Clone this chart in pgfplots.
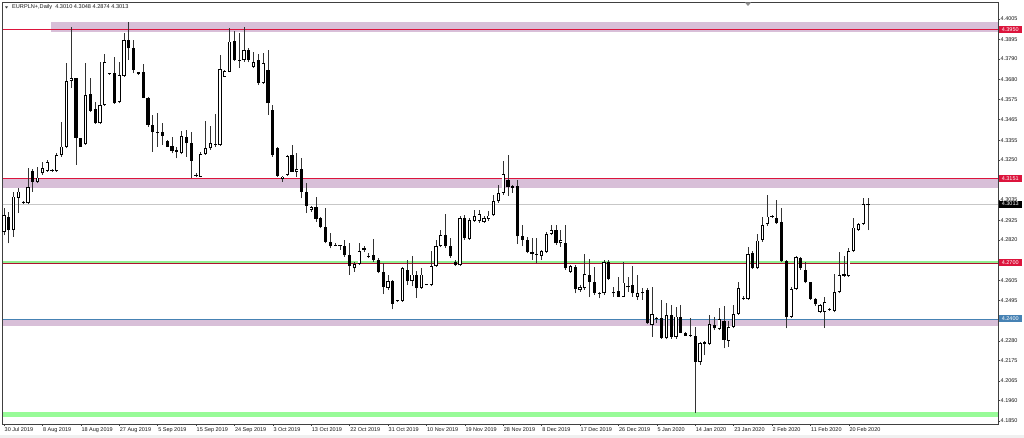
\documentclass[border=0pt]{standalone}
\usepackage{fontspec}
\setmainfont{Liberation Sans}
\usepackage{pgfplots}
\usepackage{pgfplotstable}
\pgfplotsset{compat=1.18}
\definecolor{thistle}{RGB}{216,191,216}
\definecolor{mtred}{RGB}{220,20,60}
\definecolor{mtgreen}{RGB}{144,238,144}
\definecolor{mtpale}{RGB}{152,251,152}
\definecolor{mtblue}{RGB}{70,130,180}

% EURPLN+ daily bars: index, open, high, low, close
\pgfplotstableread{
x o h l c
0 4.2865 4.2991 4.2847 4.2955
1 4.2946 4.2972 4.2803 4.2874
2 4.2874 4.3080 4.2838 4.3053
3 4.3047 4.3098 4.2964 4.3080
4 4.3021 4.3030 4.3015 4.3025
5 4.3017 4.3208 4.3012 4.3106
6 4.3190 4.3200 4.3080 4.3133
7 4.3130 4.3213 4.3125 4.3155
8 4.3178 4.3240 4.3169 4.3205
9 4.3192 4.3249 4.3187 4.3240
10 4.3194 4.3201 4.3187 4.3197
11 4.3190 4.3285 4.3187 4.3276
12 4.3276 4.3455 4.3267 4.3321
13 4.3321 4.3768 4.3312 4.3673
14 4.3673 4.3964 4.3634 4.3687
15 4.3687 4.3690 4.3223 4.3369
16 4.3366 4.3368 4.3319 4.3321
17 4.3334 4.3768 4.3330 4.3598
18 4.3602 4.3687 4.3508 4.3512
19 4.3521 4.3562 4.3444 4.3446
20 4.3446 4.3776 4.3441 4.3544
21 4.3544 4.3816 4.3540 4.3776
22 4.3710 4.3718 4.3706 4.3714
23 4.3714 4.3803 4.3551 4.3553
24 4.3559 4.3776 4.3553 4.3705
25 4.3700 4.3929 4.3696 4.3893
26 4.3893 4.3988 4.3785 4.3848
27 4.3848 4.3893 4.3714 4.3732
28 4.3709 4.3723 4.3705 4.3720
29 4.3720 4.3762 4.3580 4.3583
30 4.3580 4.3589 4.3428 4.3437
31 4.3437 4.3491 4.3294 4.3398
32 4.3393 4.3500 4.3321 4.3401
33 4.3398 4.3446 4.3330 4.3380
34 4.3351 4.3357 4.3318 4.3321
35 4.3326 4.3374 4.3285 4.3298
36 4.3303 4.3321 4.3258 4.3294
37 4.3285 4.3405 4.3280 4.3378
38 4.3374 4.3410 4.3267 4.3339
39 4.3339 4.3398 4.3151 4.3244
40 4.3167 4.3178 4.3157 4.3170
41 4.3160 4.3294 4.3157 4.3280
42 4.3280 4.3458 4.3276 4.3312
43 4.3312 4.3433 4.3303 4.3342
44 4.3330 4.3494 4.3321 4.3334
45 4.3330 4.3812 4.3326 4.3737
46 4.3696 4.3732 4.3693 4.3726
47 4.3723 4.3959 4.3720 4.3884
48 4.3887 4.3941 4.3780 4.3785
49 4.3785 4.3930 4.3743 4.3780
50 4.3785 4.3964 4.3776 4.3839
51 4.3839 4.3848 4.3773 4.3785
52 4.3750 4.3830 4.3741 4.3776
53 4.3785 4.3816 4.3651 4.3661
54 4.3661 4.3821 4.3659 4.3768
55 4.3732 4.3839 4.3491 4.3553
56 4.3517 4.3544 4.3266 4.3276
57 4.3312 4.3321 4.3160 4.3164
58 4.3146 4.3161 4.3133 4.3160
59 4.3169 4.3276 4.3164 4.3271
60 4.3276 4.3330 4.3185 4.3187
61 4.3187 4.3285 4.3160 4.3200
62 4.3200 4.3258 4.3044 4.3080
63 4.3080 4.3125 4.2964 4.3003
64 4.2981 4.3003 4.2971 4.2999
65 4.2999 4.3053 4.2919 4.2932
66 4.2937 4.2946 4.2883 4.2889
67 4.2889 4.2991 4.2803 4.2812
68 4.2812 4.2857 4.2776 4.2788
69 4.2792 4.2806 4.2788 4.2795
70 4.2795 4.2796 4.2767 4.2788
71 4.2788 4.2821 4.2731 4.2740
72 4.2740 4.2803 4.2633 4.2681
73 4.2669 4.2704 4.2651 4.2692
74 4.2692 4.2803 4.2687 4.2762
75 4.2767 4.2788 4.2758 4.2776
76 4.2733 4.2749 4.2723 4.2737
77 4.2740 4.2824 4.2704 4.2713
78 4.2713 4.2723 4.2642 4.2651
79 4.2651 4.2699 4.2531 4.2570
80 4.2562 4.2633 4.2553 4.2602
81 4.2602 4.2606 4.2449 4.2478
82 4.2493 4.2499 4.2488 4.2497
83 4.2495 4.2678 4.2490 4.2669
84 4.2661 4.2715 4.2581 4.2599
85 4.2599 4.2733 4.2572 4.2635
86 4.2635 4.2653 4.2510 4.2563
87 4.2563 4.2671 4.2560 4.2635
88 4.2579 4.2585 4.2577 4.2583
89 4.2578 4.2760 4.2572 4.2680
90 4.2680 4.2822 4.2678 4.2787
91 4.2787 4.2876 4.2782 4.2846
92 4.2846 4.2960 4.2778 4.2787
93 4.2787 4.2831 4.2724 4.2733
94 4.2703 4.2715 4.2680 4.2685
95 4.2685 4.2948 4.2680 4.2938
96 4.2938 4.2956 4.2822 4.2831
97 4.2828 4.2938 4.2822 4.2929
98 4.2924 4.2983 4.2917 4.2948
99 4.2921 4.2983 4.2912 4.2960
100 4.2917 4.2948 4.2912 4.2938
101 4.2935 4.2974 4.2921 4.2951
102 4.2953 4.3063 4.2948 4.3028
103 4.3028 4.3117 4.3019 4.3073
104 4.3073 4.3242 4.3063 4.3174
105 4.3144 4.3278 4.3055 4.3103
106 4.3099 4.3117 4.3073 4.3108
107 4.3108 4.3144 4.2799 4.2840
108 4.2840 4.2903 4.2787 4.2822
109 4.2821 4.2838 4.2749 4.2758
110 4.2758 4.2830 4.2713 4.2746
111 4.2748 4.2830 4.2696 4.2744
112 4.2735 4.2767 4.2713 4.2763
113 4.2758 4.2865 4.2753 4.2853
114 4.2853 4.2901 4.2847 4.2874
115 4.2874 4.2901 4.2794 4.2803
116 4.2803 4.2874 4.2785 4.2821
117 4.2806 4.2901 4.2660 4.2669
118 4.2651 4.2687 4.2645 4.2681
119 4.2674 4.2687 4.2535 4.2556
120 4.2553 4.2579 4.2543 4.2570
121 4.2562 4.2746 4.2553 4.2638
122 4.2633 4.2717 4.2514 4.2597
123 4.2597 4.2678 4.2526 4.2538
124 4.2538 4.2543 4.2508 4.2534
125 4.2535 4.2713 4.2526 4.2704
126 4.2704 4.2713 4.2606 4.2610
127 4.2535 4.2570 4.2517 4.2543
128 4.2549 4.2621 4.2515 4.2517
129 4.2517 4.2704 4.2515 4.2592
130 4.2567 4.2624 4.2543 4.2574
131 4.2579 4.2681 4.2517 4.2535
132 4.2517 4.2633 4.2499 4.2535
133 4.2535 4.2562 4.2499 4.2543
134 4.2553 4.2562 4.2370 4.2374
135 4.2365 4.2570 4.2302 4.2424
136 4.2396 4.2410 4.2377 4.2404
137 4.2401 4.2499 4.2292 4.2294
138 4.2294 4.2481 4.2288 4.2419
139 4.2419 4.2472 4.2292 4.2302
140 4.2302 4.2463 4.2292 4.2410
141 4.2410 4.2472 4.2321 4.2324
142 4.2324 4.2326 4.2306 4.2308
143 4.2309 4.2401 4.2302 4.2312
144 4.2308 4.2356 4.1892 4.2168
145 4.2168 4.2276 4.2151 4.2270
146 4.2276 4.2277 4.2204 4.2263
147 4.2263 4.2419 4.2258 4.2369
148 4.2365 4.2410 4.2338 4.2347
149 4.2342 4.2455 4.2338 4.2396
150 4.2386 4.2467 4.2240 4.2285
151 4.2281 4.2384 4.2249 4.2356
152 4.2356 4.2472 4.2347 4.2424
153 4.2424 4.2597 4.2419 4.2562
154 4.2506 4.2520 4.2499 4.2510
155 4.2503 4.2782 4.2499 4.2746
156 4.2749 4.2763 4.2664 4.2669
157 4.2669 4.2853 4.2664 4.2817
158 4.2821 4.2946 4.2812 4.2901
159 4.2905 4.3062 4.2897 4.2946
160 4.2951 4.2955 4.2939 4.2944
161 4.2937 4.3035 4.2905 4.2910
162 4.2916 4.2991 4.2704 4.2708
163 4.2708 4.2713 4.2347 4.2410
164 4.2410 4.2570 4.2404 4.2558
165 4.2558 4.2736 4.2553 4.2731
166 4.2726 4.2727 4.2660 4.2669
167 4.2660 4.2704 4.2588 4.2594
168 4.2594 4.2597 4.2499 4.2504
169 4.2504 4.2511 4.2468 4.2476
170 4.2436 4.2476 4.2428 4.2472
171 4.2436 4.2517 4.2351 4.2487
172 4.2449 4.2458 4.2440 4.2453
173 4.2440 4.2637 4.2433 4.2543
174 4.2540 4.2758 4.2535 4.2633
175 4.2637 4.2736 4.2624 4.2629
176 4.2629 4.2776 4.2624 4.2762
177 4.2762 4.2937 4.2755 4.2887
178 4.2874 4.2910 4.2870 4.2905
179 4.2905 4.3044 4.2901 4.3012
180 4.3010 4.3048 4.2874 4.3013
}\ohlc

\begin{document}
\begin{tikzpicture}
\useasboundingbox (-2.5pt,-14pt) rectangle (1021.5pt,424pt);
\fill[white] (-2.5pt,-14pt) rectangle (1021.5pt,424pt);
\fill[black!6] (-2.5pt,-14pt) rectangle (1021.5pt,-11pt);
\begin{axis}[
  scale only axis, width=995.5pt, height=422pt,
  xmin=-0.3125, xmax=207.08, ymin=4.18344, ymax=4.4096,
  clip=false,
  axis line style={draw=black!75, line width=0.8pt},
  xtick={0,8,...,176},
  xticklabels={30 Jul 2019, 8 Aug 2019, 18 Aug 2019, 27 Aug 2019, 5 Sep 2019, 15 Sep 2019, 24 Sep 2019, 3 Oct 2019, 13 Oct 2019, 22 Oct 2019, 31 Oct 2019, 10 Nov 2019, 19 Nov 2019, 28 Nov 2019, 8 Dec 2019, 17 Dec 2019, 26 Dec 2019, 5 Jan 2020, 14 Jan 2020, 23 Jan 2020, 2 Feb 2020, 11 Feb 2020, 20 Feb 2020},
  ytick={4.4005,4.3895,4.3790,4.3680,4.3575,4.3465,4.3355,4.3250,4.3035,4.2925,4.2820,4.2605,4.2495,4.2280,4.2175,4.2065,4.1960,4.1850},
  yticklabels={4.4005,4.3895,4.3790,4.3680,4.3575,4.3465,4.3355,4.3250,4.3035,4.2925,4.2820,4.2605,4.2495,4.2280,4.2175,4.2065,4.1960,4.1850},
  xtick pos=bottom, ytick pos=right, yticklabel pos=right,
  tick align=outside, major tick length=2pt,
  tick style={black!75, line width=0.6pt},
  tick label style={font=\fontsize{5.5}{6.5}\selectfont, text=black!90},
  x tick label style={anchor=north west, inner sep=0.5pt, xshift=0pt, yshift=-0.5pt},
  y tick label style={anchor=west, inner sep=0.5pt},
]
% zones and levels
\fill[thistle] (axis cs:9.79,4.3987) rectangle (axis cs:207.08,4.3934);
\draw[mtred, line width=0.7pt] (axis cs:-0.3125,4.3950) -- (axis cs:207.08,4.3950);
\fill[thistle] (axis cs:-0.3125,4.3145) rectangle (axis cs:207.08,4.3097);
\draw[mtred, line width=1.6pt] (axis cs:-0.3125,4.3149) -- (axis cs:207.08,4.3149);
\draw[black!22, line width=0.8pt] (axis cs:-0.3125,4.3013) -- (axis cs:207.08,4.3013);
\fill[mtgreen] (axis cs:-0.3125,4.2709) rectangle (axis cs:207.08,4.2699);
\draw[mtred!80!black, line width=0.5pt] (axis cs:-0.3125,4.2696) -- (axis cs:207.08,4.2696);
\fill[thistle] (axis cs:-0.3125,4.2395) rectangle (axis cs:207.08,4.2360);
\draw[mtblue, line width=0.7pt] (axis cs:-0.3125,4.2397) -- (axis cs:207.08,4.2397);
\fill[mtpale] (axis cs:-0.3125,4.1897) rectangle (axis cs:207.08,4.1872);

% wicks
\addplot[draw=none, mark=none, forget plot,
  error bars/.cd, y dir=plus, y explicit, error mark=none,
  error bar style={draw=black!80, line width=0.9pt}]
  table[x=x, y=l, y error plus expr=\thisrow{h}-\thisrow{l}] {\ohlc};
% bodies (outline / black)
\addplot[draw=none, mark=none, forget plot,
  error bars/.cd, y dir=plus, y explicit, error mark=none,
  error bar style={draw=black, line width=3.3pt, line cap=butt}]
  table[x=x, y expr={min(\thisrow{o},\thisrow{c})},
        y error plus expr={abs(\thisrow{c}-\thisrow{o})}] {\ohlc};
% bodies of rising bars (white inside)
\addplot[draw=none, mark=none, forget plot,
  restrict expr to domain={\thisrow{c}-\thisrow{o}}{0.0012:1},
  error bars/.cd, y dir=plus, y explicit, error mark=none,
  error bar style={draw=white, line width=1.7pt, line cap=butt}]
  table[x=x, y expr={\thisrow{o}+0.00045},
        y error plus expr={\thisrow{c}-\thisrow{o}-0.0009}] {\ohlc};

\coordinate (L1) at (axis cs:207.08,4.3950);
\coordinate (L2) at (axis cs:207.08,4.3151);
\coordinate (L3) at (axis cs:207.08,4.3013);
\coordinate (L4) at (axis cs:207.08,4.2700);
\coordinate (L5) at (axis cs:207.08,4.2400);
\end{axis}
\tikzset{lvl/.style={anchor=west, text=white, font=\fontsize{5.5}{6.5}\selectfont,
  minimum width=22.5pt, minimum height=7pt, inner xsep=1pt, inner ysep=0.5pt}}
\node[lvl, fill=mtred] at ([xshift=0.8pt]L1) {4.3950};
\node[lvl, fill=mtred] at ([xshift=0.8pt]L2) {4.3151};
\node[lvl, fill=black] at ([xshift=0.8pt]L3) {4.3013};
\node[lvl, fill=mtred] at ([xshift=0.8pt]L4) {4.2700};
\node[lvl, fill=mtblue] at ([xshift=0.8pt]L5) {4.2400};
% header
\fill[black!80] (2.5pt,417.7pt) -- (5.5pt,417.7pt) -- (4pt,415.5pt) -- cycle;
\node[anchor=west, inner sep=0pt, font=\fontsize{5.6}{6.5}\selectfont, text=black!90]
  at (9.5pt,417pt) {EURPLN+,Daily\ \ 4.3010 4.3048 4.2874 4.3013};
\fill[black!45] (742.5pt,421.5pt) -- (748.5pt,421.5pt) -- (745.5pt,418pt) -- cycle;
\end{tikzpicture}
\end{document}
